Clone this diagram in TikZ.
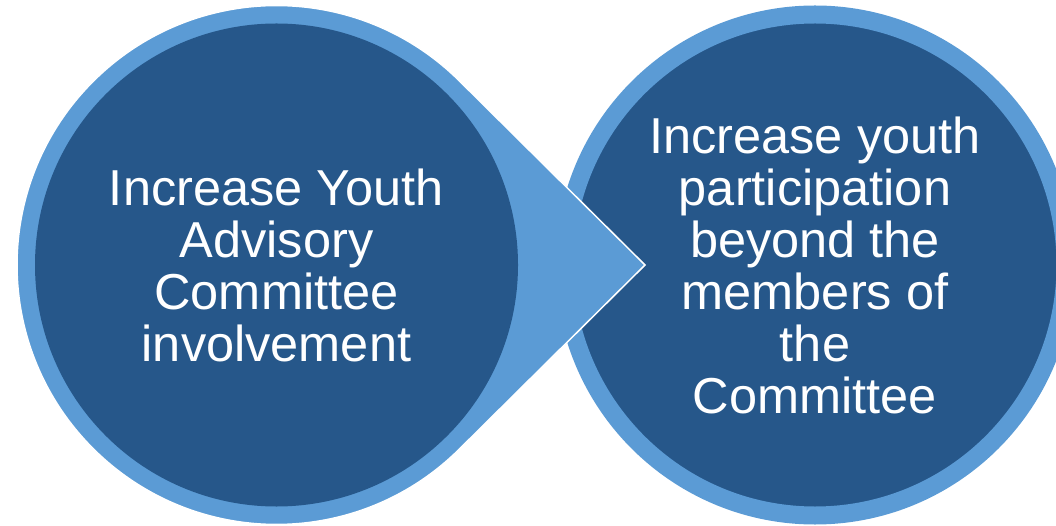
\documentclass[tikz,border=0pt]{standalone}
\usepackage{fontspec}
\setmainfont{Liberation Sans}
\definecolor{ringblue}{HTML}{5B9BD5}
\definecolor{deepblue}{HTML}{26578A}
\begin{document}
\begin{tikzpicture}[x=1pt,y=1pt,
  goal/.style={circle, inner sep=0pt, fill=deepblue, text=white, align=center,
    font=\fontsize{50.5}{52}\selectfont},
  ringed/.style={goal, draw=ringblue, line width=18pt, minimum size=501pt},
  plain/.style={goal, minimum size=483pt},
  pointer/.style={fill=ringblue, draw=white, line width=1.5pt, line join=miter}]
  \useasboundingbox (0,0) rectangle (1056,525);
  % centres of the two discs and the tip of the pointer between them
  \coordinate (c1) at (276.5,260);
  \coordinate (c2) at (815,260);
  \coordinate (tip) at (645,260);
  % second goal: dark disc with a light ring
  \node[ringed] (goal2) at (c2) {Increase youth\\participation\\beyond the\\members of\\the\\Committee};
  % light disc of the first goal, extended by tangent lines to a pointer
  \path[pointer] (tip) -- ([shift={(45.2:259.5pt)}]c1)
    arc[start angle=45.2, end angle=314.8, radius=259.5pt] -- cycle;
  % first goal: dark disc on top of the pointer
  \node[plain] (goal1) at (c1) {Increase Youth\\Advisory\\Committee\\involvement};
\end{tikzpicture}
\end{document}
